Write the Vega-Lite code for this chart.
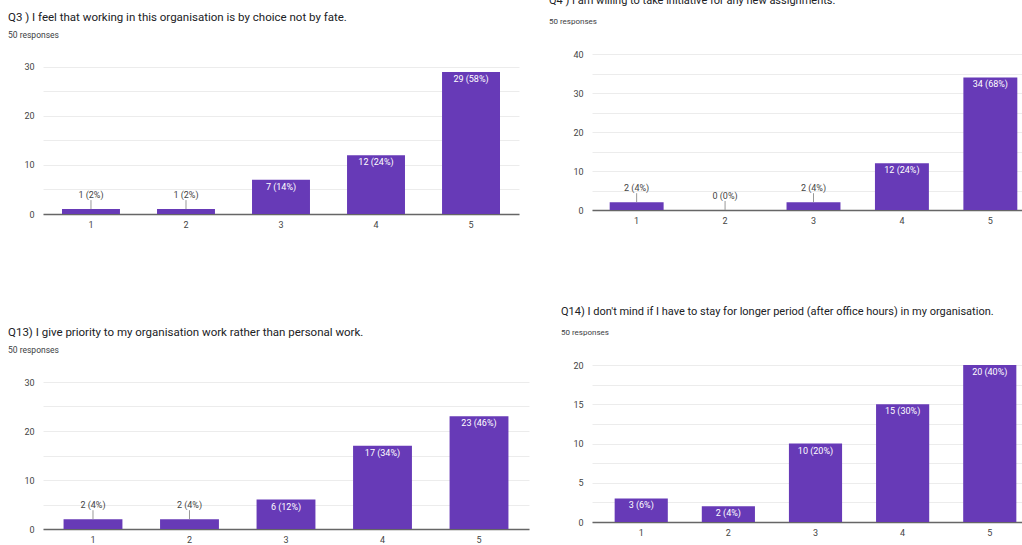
{
  "$schema": "https://vega.github.io/schema/vega-lite/v6.json",
  "background": "white",
  "padding": {"left": 8, "top": -5, "right": 0, "bottom": 0},
  "config": {
    "font": "Roboto",
    "view": {"stroke": null},
    "title": {"anchor": "start", "frame": "group", "fontSize": 11.5, "fontWeight": "normal", "color": "#202124", "subtitleFontSize": 8.5, "subtitleColor": "#3c4043", "subtitlePadding": 7, "offset": 24},
    "axisX": {"title": null, "labelAngle": 0, "ticks": false, "domainColor": "#666", "domainWidth": 1.5, "labelColor": "#444", "labelFontSize": 9, "labelPadding": 6, "grid": false},
    "axisY": {"title": null, "ticks": false, "domain": false, "labelColor": "#444", "labelFontSize": 9, "labelPadding": 9, "gridColor": "#ececec"},
    "bar": {"color": "#673ab7"},
    "text": {"fontSize": 9}
  },
  "datasets": {
    "responses": [
      {"q": "Q3", "option": "1", "count": 1, "label": "1 (2%)"},
      {"q": "Q3", "option": "2", "count": 1, "label": "1 (2%)"},
      {"q": "Q3", "option": "3", "count": 7, "label": "7 (14%)"},
      {"q": "Q3", "option": "4", "count": 12, "label": "12 (24%)"},
      {"q": "Q3", "option": "5", "count": 29, "label": "29 (58%)"},
      {"q": "Q4", "option": "1", "count": 2, "label": "2 (4%)"},
      {"q": "Q4", "option": "2", "count": 0, "label": "0 (0%)"},
      {"q": "Q4", "option": "3", "count": 2, "label": "2 (4%)"},
      {"q": "Q4", "option": "4", "count": 12, "label": "12 (24%)"},
      {"q": "Q4", "option": "5", "count": 34, "label": "34 (68%)"},
      {"q": "Q13", "option": "1", "count": 2, "label": "2 (4%)"},
      {"q": "Q13", "option": "2", "count": 2, "label": "2 (4%)"},
      {"q": "Q13", "option": "3", "count": 6, "label": "6 (12%)"},
      {"q": "Q13", "option": "4", "count": 17, "label": "17 (34%)"},
      {"q": "Q13", "option": "5", "count": 23, "label": "23 (46%)"},
      {"q": "Q14", "option": "1", "count": 3, "label": "3 (6%)"},
      {"q": "Q14", "option": "2", "count": 2, "label": "2 (4%)"},
      {"q": "Q14", "option": "3", "count": 10, "label": "10 (20%)"},
      {"q": "Q14", "option": "4", "count": 15, "label": "15 (30%)"},
      {"q": "Q14", "option": "5", "count": 20, "label": "20 (40%)"}
    ]
  },
  "hconcat": [
    {
      "spacing": 98,
      "vconcat": [
        {
          "width": 476, "height": 160,
          "title": {"text": "Q3 ) I feel that working in this organisation is by choice not by fate.", "subtitle": "50 responses", "dx": -35, "offset": 15},
          "data": {"name": "responses"},
          "transform": [{"filter": "datum.q === 'Q3'"}],
          "encoding": {
            "x": {"field": "option", "type": "ordinal", "scale": {"paddingInner": 0.39, "paddingOuter": 0.2}},
            "y": {"field": "count", "type": "quantitative", "scale": {"domain": [0, 32.65], "nice": false},
                  "axis": {"values": [0, 5, 10, 15, 20, 25, 30], "labelExpr": "datum.value % 10 === 0 ? datum.label : ''"}}
          },
          "layer": [
            {"mark": {"type": "bar"}},
            {"transform": [{"filter": "datum.count / 30 < 0.08"}], "mark": {"type": "rule", "color": "#999", "y2Offset": -9}, "encoding": {"y2": {"field": "count"}}},
            {"transform": [{"filter": "datum.count / 30 < 0.08"}], "mark": {"type": "text", "color": "#444", "baseline": "alphabetic", "dy": -11}, "encoding": {"text": {"field": "label"}}},
            {"transform": [{"filter": "datum.count / 30 >= 0.08"}], "mark": {"type": "text", "color": "white", "baseline": "top", "dy": 3}, "encoding": {"text": {"field": "label"}}}
          ]
        },
        {
          "width": 486, "height": 147,
          "title": {"text": "Q13) I give priority to my organisation work rather than personal work.", "subtitle": "50 responses", "dx": -35},
          "data": {"name": "responses"},
          "transform": [{"filter": "datum.q === 'Q13'"}],
          "encoding": {
            "x": {"field": "option", "type": "ordinal", "scale": {"paddingInner": 0.39, "paddingOuter": 0.213}},
            "y": {"field": "count", "type": "quantitative", "scale": {"domain": [0, 30], "nice": false},
                  "axis": {"values": [0, 5, 10, 15, 20, 25, 30], "labelExpr": "datum.value % 10 === 0 ? datum.label : ''"}}
          },
          "layer": [
            {"mark": {"type": "bar"}},
            {"transform": [{"filter": "datum.count / 30 < 0.08"}], "mark": {"type": "rule", "color": "#999", "y2Offset": -9}, "encoding": {"y2": {"field": "count"}}},
            {"transform": [{"filter": "datum.count / 30 < 0.08"}], "mark": {"type": "text", "color": "#444", "baseline": "alphabetic", "dy": -11}, "encoding": {"text": {"field": "label"}}},
            {"transform": [{"filter": "datum.count / 30 >= 0.08"}], "mark": {"type": "text", "color": "white", "baseline": "top", "dy": 3}, "encoding": {"text": {"field": "label"}}}
          ]
        }
      ]
    },
    {
      "spacing": 81,
      "vconcat": [
        {
          "width": 443, "height": 156,
          "title": {"text": "Q4 ) I am willing to take initiative for any new assignments.", "subtitle": "50 responses", "dx": -43, "fontSize": 11, "subtitleFontSize": 8, "subtitlePadding": 12, "offset": 24},
          "data": {"name": "responses"},
          "transform": [{"filter": "datum.q === 'Q4'"}],
          "encoding": {
            "x": {"field": "option", "type": "ordinal", "scale": {"paddingInner": 0.39, "paddingOuter": 0.2}},
            "y": {"field": "count", "type": "quantitative", "scale": {"domain": [0, 40], "nice": false},
                  "axis": {"values": [0, 5, 10, 15, 20, 25, 30, 35, 40], "labelExpr": "datum.value % 10 === 0 ? datum.label : ''"}}
          },
          "layer": [
            {"mark": {"type": "bar"}},
            {"transform": [{"filter": "datum.count / 40 < 0.08"}], "mark": {"type": "rule", "color": "#999", "y2Offset": -9}, "encoding": {"y2": {"field": "count"}}},
            {"transform": [{"filter": "datum.count / 40 < 0.08"}], "mark": {"type": "text", "color": "#444", "baseline": "alphabetic", "dy": -11}, "encoding": {"text": {"field": "label"}}},
            {"transform": [{"filter": "datum.count / 40 >= 0.08"}], "mark": {"type": "text", "color": "white", "baseline": "top", "dy": 3}, "encoding": {"text": {"field": "label"}}}
          ]
        },
        {
          "width": 447, "height": 157,
          "title": {"text": "Q14) I don't mind if I have to stay for longer period (after office hours) in my organisation.", "subtitle": "50 responses", "dx": -31, "fontSize": 11, "subtitleFontSize": 8, "subtitlePadding": 12, "offset": 24},
          "data": {"name": "responses"},
          "transform": [{"filter": "datum.q === 'Q14'"}],
          "encoding": {
            "x": {"field": "option", "type": "ordinal", "scale": {"paddingInner": 0.39, "paddingOuter": 0.26}},
            "y": {"field": "count", "type": "quantitative", "scale": {"domain": [0, 20], "nice": false},
                  "axis": {"values": [0, 2.5, 5, 7.5, 10, 12.5, 15, 17.5, 20], "labelExpr": "datum.value % 5 === 0 ? datum.label : ''"}}
          },
          "layer": [
            {"mark": {"type": "bar"}},
            {"transform": [{"filter": "datum.count / 20 < 0.08"}], "mark": {"type": "rule", "color": "#999", "y2Offset": -9}, "encoding": {"y2": {"field": "count"}}},
            {"transform": [{"filter": "datum.count / 20 < 0.08"}], "mark": {"type": "text", "color": "#444", "baseline": "alphabetic", "dy": -11}, "encoding": {"text": {"field": "label"}}},
            {"transform": [{"filter": "datum.count / 20 >= 0.08"}], "mark": {"type": "text", "color": "white", "baseline": "top", "dy": 3}, "encoding": {"text": {"field": "label"}}}
          ]
        }
      ]
    }
  ]
}
